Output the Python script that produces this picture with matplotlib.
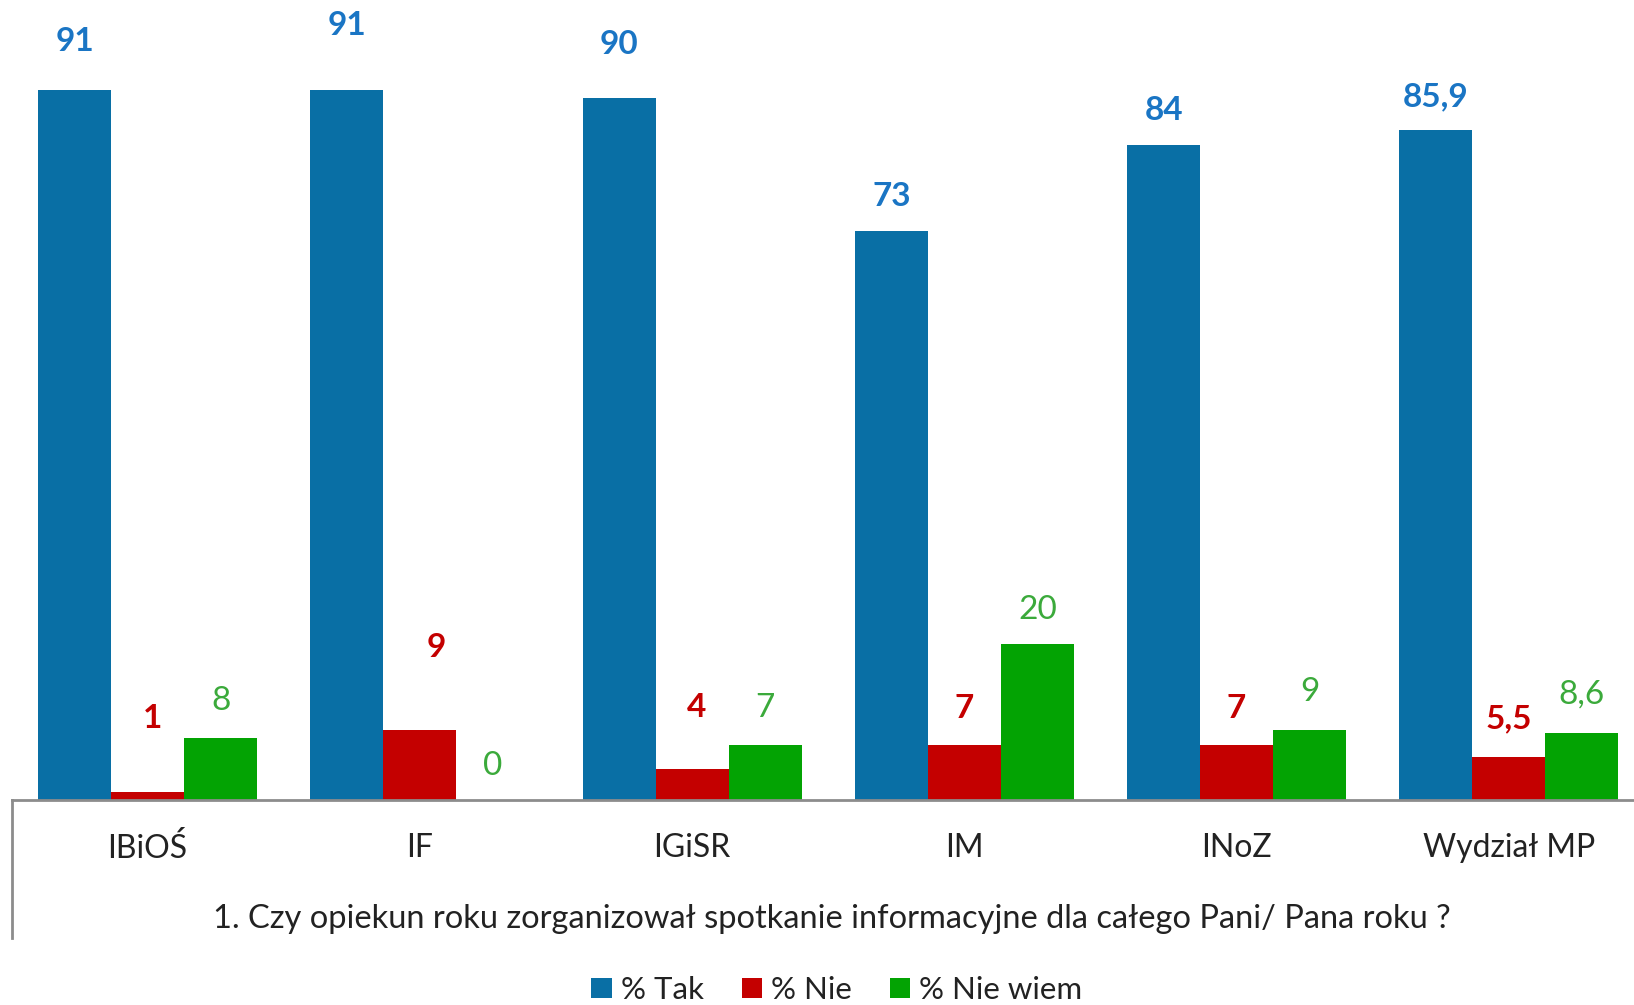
import numpy as np
import matplotlib
matplotlib.use("Agg")
from matplotlib import pyplot as plt
from matplotlib.patches import Patch
from matplotlib.lines import Line2D

categories = ["IBiOŚ", "IF", "IGiSR", "IM", "INoZ", "Wydział MP"]
tak = [91, 91, 90, 73, 84, 85.9]
nie = [1, 9, 4, 7, 7, 5.5]
nie_wiem = [8, 0, 7, 20, 9, 8.6]
series_names = ["% Tak", "% Nie", "% Nie wiem"]
question = "1. Czy opiekun roku zorganizował spotkanie informacyjne dla całego Pani/ Pana roku ?"

# label offsets above bar top (pixels), hand-placed like in the original
dy = [[49, 65, 54, 34, 35, 33],
      [74, 82, 61, 37, 37, 38],
      [37, 34, 37, 34, 38, 38]]
dx = [[0, 0, 0, 0, 0, 0],
      [5, 16, 4, 0, 0, 0],
      [0, 0, 0, 0, 0, 0]]

bar_cols = ["#096FA5", "#C40000", "#03A303"]
txt_cols = ["#1A75C4", "#C40000", "#3BAA3B"]
bold = [True, True, False]

plt.rcParams['font.family'] = ['Lato', 'DejaVu Sans']

W, H = 1634, 1005
fig = plt.figure(figsize=(W / 100, H / 100), dpi=100)
ax = fig.add_axes([11.5 / W, 205 / H, 1 - 11.5 / W, 800 / H])

x = np.arange(len(categories))
w = 0.268
px2pt = 0.72
for i, vals in enumerate([tak, nie, nie_wiem]):
    pos = x + (i - 1) * w
    ax.bar(pos, vals, width=w, color=bar_cols[i], label=series_names[i])
    for j, v in enumerate(vals):
        s = ("%g" % v).replace(".", ",")
        ax.annotate(s, (pos[j], v), xytext=(dx[i][j] * px2pt, dy[i][j] * px2pt),
                    textcoords="offset points", ha="center", va="center",
                    fontsize=24, color=txt_cols[i],
                    fontweight="bold" if bold[i] else "normal")

ax.set_xlim(-0.5, 5.46)
ax.set_ylim(0, 102.6)
ax.set_yticks([])
ax.set_xticks(x)
ax.set_xticklabels(categories, fontsize=23, color="#222222")
ax.tick_params(axis="x", length=0, pad=24)
for sp in ["top", "right", "left"]:
    ax.spines[sp].set_visible(False)
ax.spines["bottom"].set_color("#8C8C8C")
ax.spines["bottom"].set_linewidth(2)

# left frame line continuing below the axis
fig.add_artist(Line2D([11.5 / W, 11.5 / W], [1 - 938 / H, 205 / H],
                      color="#8C8C8C", lw=2, transform=fig.transFigure))

fig.text(832 / W, 1 - 919 / H, question, ha="center", va="center",
         fontsize=23.5, color="#222222")

handles = [Patch(facecolor=c) for c in bar_cols]
fig.legend(handles, series_names, loc="center", bbox_to_anchor=(837 / W, 1 - 990 / H),
           ncol=3, frameon=False, fontsize=22.5, handlelength=0.65, handleheight=0.65,
           handletextpad=0.3, columnspacing=1.2, labelcolor="#222222")

fig.savefig("out.png", dpi=100)
